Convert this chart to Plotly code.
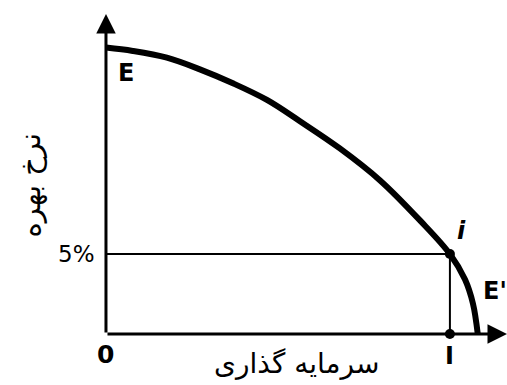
import plotly.graph_objects as go

# Investment demand curve E–E' (investment vs. interest rate)
invest = [0.0, 0.078, 0.177, 0.273, 0.369, 0.468, 0.564, 0.68, 0.797, 0.913, 1.0, 1.044, 1.067, 1.081]
rate = [17.9, 17.69, 17.27, 16.54, 15.67, 14.63, 13.3, 11.6, 9.6, 7.1, 5.0, 3.4, 1.9, 0.0]

rate_i = 5.0      # 5% interest rate
invest_i = 1.0    # investment level I at that rate
x_max = 1.166
y_max = 20.0

fig = go.Figure()

# guide lines to point i
fig.add_trace(go.Scatter(x=[0, invest_i], y=[rate_i, rate_i], mode="lines",
                         line=dict(color="black", width=2), hoverinfo="skip"))
fig.add_trace(go.Scatter(x=[invest_i, invest_i], y=[0, rate_i], mode="lines",
                         line=dict(color="black", width=2), hoverinfo="skip"))

# the curve
fig.add_trace(go.Scatter(x=invest, y=rate, mode="lines",
                         line=dict(color="black", width=6, shape="spline", smoothing=1.0),
                         hoverinfo="skip"))

# points i and I
fig.add_trace(go.Scatter(x=[invest_i, invest_i], y=[rate_i, 0], mode="markers",
                         marker=dict(color="black", size=10), hoverinfo="skip"))

# axes with arrowheads
fig.add_annotation(x=0, y=y_max, ax=0, ay=0, xref="x", yref="y", axref="x", ayref="y",
                   showarrow=True, arrowhead=2, arrowsize=1.3, arrowwidth=3, arrowcolor="black", text="")
fig.add_annotation(x=x_max, y=0, ax=0, ay=0, xref="x", yref="y", axref="x", ayref="y",
                   showarrow=True, arrowhead=2, arrowsize=1.3, arrowwidth=3, arrowcolor="black", text="")

def font(size):
    return dict(family="DejaVu Sans", size=size, color="black")

labels = [
    dict(x=0, y=-1.31, text="<b>0</b>", font=font(25)),
    dict(x=invest_i, y=-1.4, text="<b>I</b>", font=font(24)),
    dict(x=0.058, y=16.3, text="<b>E</b>", font=font(24)),
    dict(x=1.035, y=6.44, text="<b><i>i</i></b>", font=font(24)),
    dict(x=1.089, y=2.69, text="<b>E'</b>", font=font(24), xanchor="left"),
]
for lb in labels:
    fig.add_annotation(xref="x", yref="y", showarrow=False, **lb)

fig.add_annotation(x=-0.026, y=rate_i, xref="x", yref="y", xanchor="right", showarrow=False,
                   text="5%", font=font(23))

# axis titles
fig.add_annotation(x=0.555, y=-1.85, xref="x", yref="y", showarrow=False,
                   text="سرمایه گذاری", font=font(28))
fig.add_annotation(x=-0.22, y=9.3, xref="x", yref="y", showarrow=False, textangle=-90,
                   text="نرخ بهره", font=font(29))

fig.update_layout(
    width=507, height=385,
    margin=dict(l=0, r=0, t=0, b=0),
    paper_bgcolor="white", plot_bgcolor="white",
    showlegend=False,
    xaxis=dict(range=[-106 / 344, x_max], visible=False, fixedrange=True),
    yaxis=dict(range=[-51 / 16, 334 / 16], visible=False, fixedrange=True),
)

fig.write_html("out.html")
